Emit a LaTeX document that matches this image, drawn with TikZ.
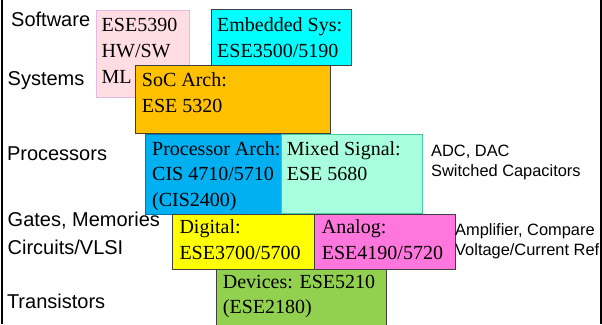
\documentclass[tikz,border=0pt]{standalone}
\usepackage{fontspec}
\setmainfont{Liberation Serif}
\setsansfont{Liberation Sans}
\definecolor{boxline}{RGB}{64,64,64}
\definecolor{pinkfill}{RGB}{255,221,226}
\definecolor{pinkline}{RGB}{226,186,226}
\definecolor{cyanfill}{RGB}{0,255,255}
\definecolor{orangefill}{RGB}{255,192,0}
\definecolor{bluefill}{RGB}{0,176,240}
\definecolor{blueline}{RGB}{0,120,170}
\definecolor{mintfill}{RGB}{168,255,224}
\definecolor{mintline}{RGB}{70,200,160}
\definecolor{yellowfill}{RGB}{255,255,0}
\definecolor{magentafill}{RGB}{255,119,221}
\definecolor{greenfill}{RGB}{146,208,80}
\begin{document}
\begin{tikzpicture}[x=1pt,y=-1pt,
  course/.style={draw=boxline, line width=0.9pt, inner sep=0pt, outer sep=0pt, anchor=north west},
  ctext/.style={anchor=base west, inner sep=0pt, font=\fontsize{20}{24}\selectfont},
  level/.style={anchor=base west, inner sep=0pt, font=\sffamily\fontsize{20}{24}\selectfont},
  note/.style={anchor=base west, inner sep=0pt, font=\sffamily\fontsize{16.4}{19}\selectfont}]
\useasboundingbox (0,0) rectangle (602,324);
\begin{scope}
\clip (0,0) rectangle (600,324);
% course boxes, back to front
\node[course, draw=pinkline, fill=pinkfill, minimum width=93pt, minimum height=87pt] (hwsw) at (96,10) {};
\node[course, fill=cyanfill, minimum width=140.7pt, minimum height=55.7pt] (emb) at (211,9.3) {};
\node[course, fill=orangefill, minimum width=195pt, minimum height=68pt] (soc) at (135,65) {};
\node[course, draw=blueline, fill=bluefill, minimum width=136.3pt, minimum height=80pt] (proc) at (145.7,134) {};
\node[course, draw=mintline, fill=mintfill, minimum width=141.7pt, minimum height=79.5pt] (mixed) at (281,134) {};
\node[course, fill=greenfill, minimum width=170pt, minimum height=60pt] (dev) at (216.7,269.3) {};
\node[course, fill=yellowfill, minimum width=141.3pt, minimum height=55.3pt] (dig) at (172.7,214) {};
\node[course, fill=magentafill, minimum width=141pt, minimum height=55.3pt] (ana) at (314,214) {};
% course texts
\node[ctext] (hwsw1) at (101.5,31.7) {ESE5390};
\node[ctext] (hwsw2) at (101.5,57.5) {HW/SW};
\node[ctext] (hwsw3) at (101.5,83) {ML};
\node[ctext] (emb1) at (217,31.7) {Embedded Sys:};
\node[ctext] (emb2) at (217,57.5) {ESE3500/5190};
\node[ctext] (soc1) at (141.7,86.5) {SoC Arch:};
\node[ctext] (soc2) at (141.7,112.4) {ESE 5320};
\node[ctext] (proc1) at (152,155) {Processor Arch:};
\node[ctext] (proc2) at (152,180.5) {CIS 4710/5710};
\node[ctext] (proc3) at (152,206) {(CIS2400)};
\node[ctext] (mixed1) at (286.7,155) {Mixed Signal:};
\node[ctext] (mixed2) at (286.7,180.5) {ESE 5680};
\node[ctext] (dig1) at (179.3,233.3) {Digital:};
\node[ctext] (dig2) at (179.3,259.5) {ESE3700/5700};
\node[ctext] (ana1) at (321.7,233.3) {Analog:};
\node[ctext] (ana2) at (321.7,259.5) {ESE4190/5720};
\node[ctext] (dev1) at (222.7,288.3) {Devices: ESE5210};
\node[ctext] (dev2) at (222.7,313.5) {(ESE2180)};
% abstraction levels
\node[level] (lsw) at (11,26.7) {Software};
\node[level] (lsys) at (7.5,85) {Systems};
\node[level] (lproc) at (6.8,160.7) {Processors};
\node[level] (lgates) at (7.5,226.7) {Gates, Memories};
\node[level] (lvlsi) at (7.5,254) {Circuits/VLSI};
\node[level] (ltrans) at (6.8,308.3) {Transistors};
% side notes
\node[note] (adc) at (431,156) {ADC, DAC};
\node[note] (sc) at (431,176) {Switched Capacitors};
\node[note] (amp) at (455,235.7) {Amplifier, Compare};
\node[note] (vref) at (455,255) {Voltage/Current Ref};
\end{scope}
% frame sides
\coordinate (ltop) at (2,0);
\coordinate (lbot) at (2,324);
\coordinate (rtop) at (600.8,0);
\coordinate (rbot) at (600.8,324);
\draw[line width=2pt] (ltop) -- (lbot);
\draw[line width=2pt] (rtop) -- (rbot);
\end{tikzpicture}
\end{document}
